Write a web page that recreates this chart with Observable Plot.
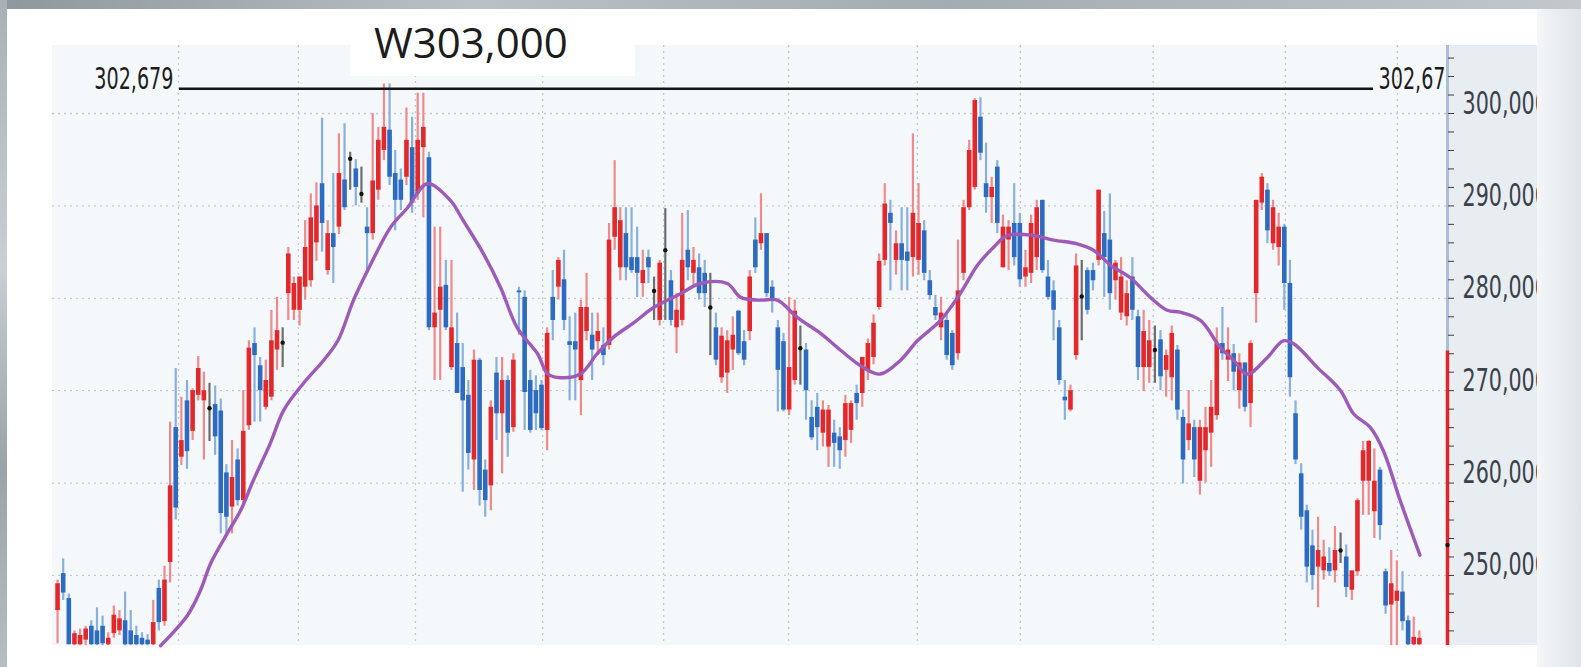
<!DOCTYPE html>
<html><head><meta charset="utf-8">
<script src="https://cdn.jsdelivr.net/npm/d3@7"></script>
<script src="https://cdn.jsdelivr.net/npm/@observablehq/plot@0.6"></script>
<style>
html,body{margin:0;padding:0;background:#fff;}
#wrap{position:relative;width:1581px;height:667px;overflow:hidden;background:#fff;}
#plotbg{position:absolute;left:52px;top:45px;width:1395px;height:600px;background:#f5f8fb;}
#axisbg{position:absolute;left:1447px;top:45px;width:90px;height:600px;background:#e7edf1;}
#chart{position:absolute;left:0;top:0;}
#rightcover{position:absolute;left:1537px;top:0;width:44px;height:667px;background:linear-gradient(90deg,#f4f6f8,#dfe4e8);}
#topstrip{position:absolute;left:0;top:0;width:1581px;height:9px;background:linear-gradient(90deg,#8e979d,#b9c1c6 30%,#a3acb2 60%,#c2c8cc);}
#leftstrip{position:absolute;left:0;top:0;width:7px;height:667px;background:linear-gradient(#a9b1b6,#c9cfd2 40%,#9aa3a8 70%,#b7bec2);}
#titlebox{position:absolute;left:350px;top:12px;width:285px;height:64px;background:#fff;}
#title{position:absolute;left:374px;top:13px;font-family:'Open Sans',sans-serif;font-size:42px;color:#1c1c1c;line-height:1.36;white-space:nowrap;}
</style>
</head>
<body>
<div id="wrap">
  <div id="plotbg"></div>
  <div id="axisbg"></div>
  <div id="chart"></div>
  <div id="titlebox"></div>
  <div id="title">W303,000</div>
  <div id="rightcover"></div>
  <div id="topstrip"></div>
  <div id="leftstrip"></div>
</div>
<script>
// ---- data (prices in thousands of won), one entry per trading day ----
const open = [
246.2,250.2,247.5,242.5,242.5,243.0,244.5,244.0,244.5,242.5,
243.7,244.0,245.1,244.0,243.5,243.2,243.0,242.5,248.6,245.0,
251.4,266.0,262.8,268.9,265.6,269.5,268.9,268.1,268.5,267.8,
261.1,257.4,262.5,258.1,266.2,275.1,272.7,268.2,269.3,274.4,
275.2,280.5,278.7,278.7,281.2,281.9,286.0,292.4,283.0,287.0,
287.7,292.8,295.1,294.0,291.3,287.7,287.0,291.7,296.0,298.2,
293.5,292.8,293.1,296.3,291.3,296.3,295.2,276.8,278.7,281.4,
272.5,275.1,272.5,269.5,262.5,273.3,261.4,259.7,271.9,267.5,
271.1,266.0,280.8,280.1,271.1,270.0,270.6,265.7,280.1,281.2,
282.0,275.3,275.3,271.1,276.4,276.0,275.3,274.9,274.9,286.6,
283.3,287.0,284.4,284.4,281.6,284.4,280.8,277.6,285.2,281.9,
276.8,277.6,285.2,282.7,283.3,282.7,279.0,276.8,271.4,271.9,
274.4,278.6,275.3,276.4,286.3,285.9,287.0,281.2,276.8,275.3,
267.9,271.1,274.6,274.4,267.1,268.2,265.4,263.9,265.4,265.0,
264.6,265.7,269.7,269.7,272.1,273.6,279.0,284.1,289.2,284.1,
285.9,285.0,284.4,284.1,287.3,281.9,279.0,276.8,277.6,276.2,
274.0,282.7,289.8,292.0,299.6,292.4,290.9,294.2,283.3,286.3,
288.1,288.1,282.3,282.7,284.4,290.6,282.3,280.8,276.8,269.3,
267.9,273.8,280.2,283.0,283.0,284.1,287.0,286.3,281.9,278.4,
278.0,282.3,278.0,272.5,272.5,274.4,275.5,272.2,271.4,274.4,
267.1,264.6,266.0,260.2,263.5,265.4,267.3,275.1,273.3,274.0,
270.0,273.0,268.6,280.5,290.3,291.7,285.9,285.5,287.7,281.6,
267.5,261.0,257.0,253.2,250.9,250.5,251.3,250.5,252.7,252.0,
248.4,250.4,260.2,260.2,256.9,261.4,250.4,246.8,247.2,248.2,
245.1,242.5,242.5];
const high = [
249.5,251.8,248.0,244.0,244.2,244.5,245.1,246.5,245.6,243.8,
246.7,246.2,248.2,246.2,244.5,243.8,243.6,247.3,249.5,251.0,
266.6,272.4,269.3,271.1,270.2,273.7,272.0,270.8,270.5,269.1,
262.0,264.6,263.7,270.0,275.4,276.8,273.6,273.3,278.7,280.1,
276.8,285.5,282.3,282.3,288.4,291.3,292.5,299.5,288.4,293.5,
297.8,298.9,295.8,295.0,294.2,289.8,300.0,298.5,303.2,303.2,
296.0,294.0,300.6,299.6,302.2,302.2,295.8,287.7,287.7,284.1,
284.1,278.4,275.1,271.1,274.4,273.5,262.5,268.9,273.6,273.6,
271.6,274.0,281.2,280.8,272.2,271.6,271.1,276.8,283.0,284.4,
285.2,278.0,278.4,279.8,282.7,278.4,278.4,276.8,288.1,294.9,
289.8,289.8,289.8,287.7,285.2,285.2,282.3,284.1,289.7,283.0,
280.5,289.2,289.5,285.5,284.8,284.1,282.7,278.4,276.8,276.5,
278.0,278.7,276.5,283.0,288.7,291.3,287.0,281.9,277.6,276.2,
280.1,279.8,277.0,275.1,268.9,269.7,268.9,268.4,266.8,266.0,
269.5,268.9,270.6,273.6,275.6,278.2,284.8,292.4,290.6,287.3,
289.8,289.8,297.8,292.4,288.4,283.0,280.3,280.1,278.2,276.5,
286.3,290.6,297.1,301.6,301.7,296.8,293.1,294.9,289.0,288.4,
292.4,289.2,285.2,289.0,290.6,290.6,284.1,281.9,277.6,271.1,
270.6,284.8,284.1,283.3,283.8,291.7,289.4,291.3,284.1,284.4,
281.9,284.4,278.7,278.7,277.6,277.0,276.5,274.4,277.0,274.9,
267.9,270.0,266.8,266.8,268.2,271.1,276.8,279.0,276.8,275.0,
274.0,273.0,275.4,290.6,293.5,292.4,290.6,289.2,288.0,284.1,
268.9,262.1,257.6,254.9,256.3,253.8,253.0,255.3,254.6,253.3,
249.1,258.3,264.5,264.6,263.7,261.7,250.7,252.7,251.6,250.4,
245.6,245.5,244.0];
const low = [
242.6,247.3,242.5,242.4,242.4,242.4,242.4,242.4,242.4,242.4,
243.2,243.5,242.4,242.4,242.4,242.4,242.4,242.4,244.0,244.5,
249.2,256.0,261.9,261.5,264.6,268.9,262.5,264.5,263.0,254.5,
254.5,254.5,257.5,257.5,265.7,266.6,266.6,267.9,268.9,272.2,
272.5,277.6,277.6,277.0,279.8,281.2,284.0,285.0,282.5,281.6,
286.9,289.5,291.7,290.0,290.3,282.7,286.3,290.6,294.9,292.2,
287.3,289.5,292.2,289.2,290.6,288.7,276.5,271.1,271.1,276.5,
272.2,269.7,259.0,261.4,259.2,257.5,256.3,257.0,264.6,261.0,
262.8,265.5,276.0,265.7,265.4,265.7,265.7,263.5,275.4,279.8,
276.5,268.9,268.9,267.3,275.4,271.1,273.8,272.7,274.4,285.2,
281.9,281.9,282.7,280.1,280.1,281.6,277.6,277.0,277.6,277.0,
274.0,277.0,281.9,281.2,279.8,279.0,273.8,272.7,270.8,269.7,
272.2,273.8,272.7,275.4,282.7,285.2,280.1,278.4,267.7,267.7,
267.3,270.6,270.6,266.8,264.6,263.5,263.9,261.7,261.7,261.5,
262.8,264.3,266.8,268.2,271.1,272.8,278.7,283.5,280.8,282.5,
280.8,280.8,282.3,282.5,281.9,279.8,277.6,275.4,273.3,272.2,
273.3,281.9,289.5,291.7,294.9,289.2,288.1,287.0,283.3,283.0,
283.5,281.2,281.2,281.6,283.0,282.7,279.8,275.4,270.6,266.8,
267.7,273.3,275.4,278.2,280.8,283.5,280.1,278.7,279.8,277.6,
277.0,277.6,271.1,269.9,270.8,270.8,270.0,269.3,268.9,266.8,
259.9,263.5,260.6,258.7,260.0,261.7,266.8,273.3,271.0,270.0,
268.0,267.7,266.0,277.3,289.5,285.9,285.2,283.5,278.7,269.3,
262.0,254.9,249.2,248.4,246.5,249.5,249.9,249.2,251.3,247.6,
247.3,249.9,256.5,256.5,254.0,253.8,245.8,242.4,242.4,244.0,
242.4,242.4,242.4];
const close = [
249.1,248.1,242.5,243.7,243.5,244.2,242.5,242.5,242.6,243.2,
245.7,245.3,242.5,242.5,242.5,242.5,242.5,244.9,244.9,249.5,
259.7,257.3,264.6,263.4,270.0,272.4,270.0,268.1,265.0,256.7,
256.3,260.6,258.1,265.6,274.6,273.8,270.0,271.1,275.4,276.5,
275.2,284.8,281.6,282.3,285.5,288.7,290.0,288.1,287.0,285.5,
293.5,289.8,295.1,292.0,291.3,287.0,292.7,297.1,298.5,293.1,
290.6,290.6,297.1,290.3,297.1,298.5,276.8,278.4,281.2,276.8,
276.8,269.7,268.9,263.2,273.3,259.2,258.1,268.2,267.5,271.1,
265.4,273.3,280.6,269.8,265.7,267.5,265.9,276.2,277.6,284.1,
277.6,274.9,274.4,279.0,279.0,274.4,276.4,273.8,286.3,289.8,
288.4,283.3,283.0,282.7,283.0,283.3,280.8,283.8,285.2,277.6,
278.7,284.1,283.3,284.1,280.5,280.5,279.0,273.3,275.9,275.4,
276.0,274.0,273.3,282.3,283.3,287.0,280.5,279.8,272.2,267.9,
272.5,278.6,274.6,270.0,264.9,266.0,267.9,267.9,264.3,263.5,
268.6,268.6,268.6,273.6,275.1,277.3,284.0,290.2,288.1,285.9,
284.1,284.0,289.2,288.1,282.7,280.3,278.1,278.4,273.8,272.7,
280.8,289.8,296.0,301.4,295.7,290.9,292.0,288.1,287.7,287.7,
284.4,282.0,283.3,288.1,289.8,283.0,280.1,278.7,271.1,268.9,
270.0,283.5,280.2,278.7,281.9,291.7,284.4,280.5,283.8,282.3,
280.5,278.7,272.5,276.4,275.4,274.4,271.5,273.8,276.2,267.9,
262.5,266.4,262.5,266.0,266.0,268.2,275.1,274.0,274.4,272.0,
273.0,268.2,275.1,290.6,293.1,287.3,289.8,287.7,281.6,271.4,
262.5,256.3,250.9,250.0,252.7,252.0,250.4,252.7,252.7,248.7,
250.5,258.1,263.5,264.5,260.2,255.4,246.7,249.1,248.3,245.0,
242.5,243.3,243.2];

// moving-average line: [day index, price]
const maIdx = [18.3,23.1,25.4,27.2,30.2,32.5,34.8,37.8,40.2,43.7,
47.3,49.8,52.6,55.1,59.2,62.2,65.7,69.8,72.1,75.7,
78.7,81.7,85.3,87.1,89.4,92.9,95.9,98.8,102.3,105.9,
110.7,114.2,119.0,121.4,124.9,127.9,131.5,135.6,139.1,143.2,
146.2,149.8,152.8,156.9,160.4,163.5,166.3,168.8,173.4,177.0,
181.2,184.1,187.1,190.7,194.2,197.2,199.5,203.1,206.6,209.0,
211.4,215.0,217.8,219.6,223.9,228.0,230.3,233.3,235.6,238.6,242.1];
const maVal = [242.4,245.7,248.4,251.3,254.6,257.0,260.3,264.3,267.9,270.8,
273.3,275.4,279.8,283.0,287.7,289.8,292.4,290.6,288.4,284.8,
281.2,276.8,274.0,271.8,271.4,271.8,274.0,275.8,277.3,279.0,
280.5,281.6,281.6,280.1,279.8,279.8,277.9,276.2,274.4,272.5,
271.8,273.3,275.4,277.6,280.5,283.6,285.5,286.8,286.8,286.3,
285.9,285.2,283.6,282.2,280.1,278.7,278.5,277.6,274.7,273.3,
271.8,273.6,275.4,275.1,272.5,270.0,267.5,266.0,263.5,258.1,252.2];

const monthIdx = [21.5,42.8,63.6,86.2,107.7,129.9,152.8,171.1,194.7,218.2,238.1];
const gridLevels = [250,260,270,280,290,300];
const axisTicks = [244,246,248,250,252,254,256,258,260,262,264,266,268,270,272,274,276,278,280,282,284,286,288,290,292,294,296,298,300,302,304,306];
const axisLabels = {250:"250,000",260:"260,000",270:"270,000",280:"280,000",290:"290,000",300:"300,000"};
const refLevel = 302.679;     // black reference line
const refLabel = "302,679";
const rangeTop = 274.3;       // top of red range bar on the axis
const lastPrice = 253.3;      // black marker on the axis

// ---- layout ----
const xDomain = [-0.9, 247];
const yDomain = [242.42, 307.36];
const col = {
  up:   {wick:"#f08a8a", body:"#e3282b"},
  down: {wick:"#88b0df", body:"#2c6bbf"},
  flat: {wick:"#6d6d6d", body:"#111"}
};

const candles = open.map((o,i)=>({
  i, open:o, high:high[i], low:low[i], close:close[i],
  dir: close[i]>o ? "up" : close[i]<o ? "down" : "flat"
}));
const ma = maIdx.map((x,k)=>({x, y:maVal[k]}));

const plot = Plot.plot({
  width:1581, height:667,
  marginLeft:52, marginRight:134, marginTop:45, marginBottom:22,
  style:{background:"transparent", fontFamily:"'DejaVu Sans Condensed','Liberation Sans Narrow',sans-serif", fontSize:"26px", color:"#3b414b"},
  x:{domain:xDomain, axis:null},
  y:{domain:yDomain, axis:null},
  marks:[
    Plot.ruleY(gridLevels, {stroke:"#c3c9d1", strokeWidth:1.3, strokeDasharray:"2,4"}),
    Plot.ruleX(monthIdx, {stroke:"#c3c9d1", strokeWidth:1.3, strokeDasharray:"2,4"}),
    Plot.ruleX(candles, {x:"i", y1:"low", y2:"high", stroke:d=>col[d.dir].wick, strokeWidth:2.2}),
    Plot.ruleX(candles.filter(d=>d.dir!=="flat"), {x:"i", y1:"open", y2:"close", stroke:d=>col[d.dir].body, strokeWidth:4.6}),
    Plot.dot(candles.filter(d=>d.dir==="flat"), {x:"i", y:"open", r:2.2, fill:"#111"}),
    Plot.line(ma, {x:"x", y:"y", stroke:"#9d5ab8", strokeWidth:3.4, curve:"catmull-rom"}),
    Plot.ruleY([refLevel], {insetLeft:127, insetRight:74, stroke:"#151515", strokeWidth:2.6}),
    Plot.text([refLevel], {y:d=>d, text:()=>refLabel, frameAnchor:"left", dx:121, textAnchor:"end", fill:"#1d1d1d", fontSize:26}),
    Plot.text([refLevel], {y:d=>d, text:()=>refLabel, frameAnchor:"right", dx:-69, textAnchor:"start", fill:"#1d1d1d", fontSize:26, clip:true}),
    Plot.ruleX([xDomain[1]], {stroke:"#abbfd4", strokeWidth:3}),
    Plot.ruleX([{x:xDomain[1], y1:rangeTop, y2:yDomain[0]}], {x:"x", y1:"y1", y2:"y2", stroke:"#e0252b", strokeWidth:3.5}),
    Plot.dot([lastPrice], {x:()=>xDomain[1], y:d=>d, r:2.2, fill:"#111"}),
    Plot.axisY(axisTicks, {anchor:"right", tickSize:6, tickPadding:9, tickFormat:d=>axisLabels[d] || "", color:"#3b414b", fontSize:28})
  ]
});
document.getElementById("chart").appendChild(plot);

// condensed, tall label lettering like the source screenshot
d3.select(plot).selectAll("text").each(function(){
  const x = +this.getAttribute("x") || 0, y = +this.getAttribute("y") || 0;
  this.removeAttribute("x"); this.removeAttribute("y");
  const t = this.getAttribute("transform") || "";
  this.setAttribute("transform", `${t} translate(${x},${y}) scale(0.82,1.15)`);
});
</script>
</body></html>
